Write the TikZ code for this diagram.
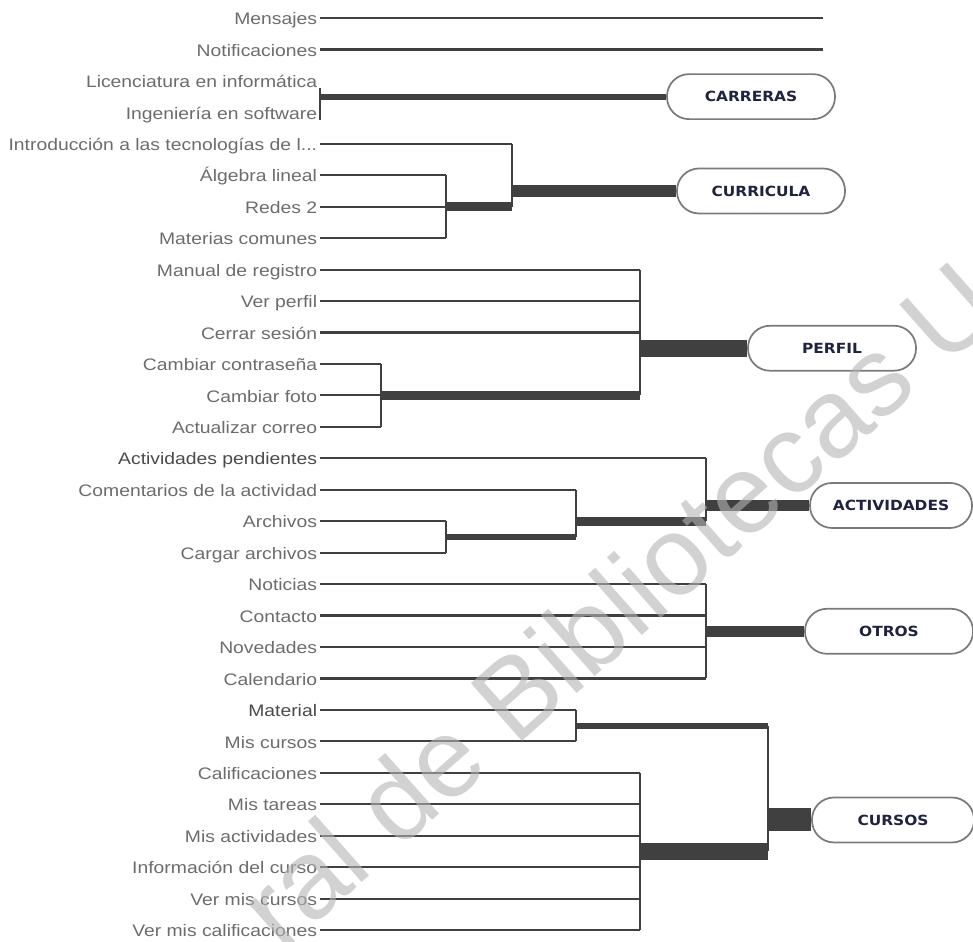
\documentclass[tikz,border=0pt]{standalone}
\usepackage{fontspec}
\usetikzlibrary{calc}
\newfontfamily\lblfont{Liberation Sans}[FakeStretch=1.16]
\newfontfamily\boxfont{DejaVu Sans}[FakeStretch=1.1]
\newfontfamily\wmfont{Liberation Sans}
\definecolor{linec}{HTML}{404040}
\definecolor{lbltext}{HTML}{6C6C6C}
\definecolor{lbldark}{HTML}{4A4A4A}
\definecolor{boxtext}{HTML}{1F2240}
\definecolor{boxedge}{HTML}{7A7A7A}
\definecolor{wmgray}{HTML}{B4B4B4}
% vertical position of leaf row #1 (pixel units)
\newcommand{\rowy}[1]{18+31.45*#1}
\begin{document}
\begin{tikzpicture}[x=0.75pt,y=-0.75pt,
  lbl/.style={anchor=east, inner xsep=2pt, inner ysep=0pt,
    text height=11.3pt, text depth=1.3pt,
    font=\lblfont\fontsize{12.5}{14}\selectfont, text=#1},
  lbl/.default=lbltext,
  leaf/.style={draw=linec, line width=1.6pt},
  vert/.style={draw=linec, line width=1.4pt},
  trunk/.style={draw=linec, line width=#1*0.75pt},
  catbox/.style={draw=boxedge, line width=1.3pt, fill=white,
    rounded corners=16.5pt, minimum width=126pt, minimum height=33.75pt,
    inner sep=0pt, text=boxtext,
    font=\boxfont\bfseries\fontsize{10.5}{12}\selectfont},
  wm/.style={font=\wmfont\fontsize{84}{84}\selectfont, text=wmgray,
    text opacity=0.6, inner sep=0pt}
]
\useasboundingbox (0,0) rectangle (973,941);
\clip (0,0) rectangle (973,941);

% menu entries, one per row
\foreach \t/\c [count=\i from 0] in {
  Mensajes/lbltext, Notificaciones/lbltext,
  Licenciatura en informática/lbltext, Ingeniería en software/lbltext,
  {Introducción a las tecnologías de l...}/lbltext, Álgebra lineal/lbltext,
  Redes 2/lbltext, Materias comunes/lbltext,
  Manual de registro/lbltext, Ver perfil/lbltext, Cerrar sesión/lbltext,
  Cambiar contraseña/lbltext, Cambiar foto/lbltext, Actualizar correo/lbltext,
  Actividades pendientes/lbldark, Comentarios de la actividad/lbltext,
  Archivos/lbltext, Cargar archivos/lbltext,
  Noticias/lbltext, Contacto/lbltext, Novedades/lbltext, Calendario/lbltext,
  Material/lbldark, Mis cursos/lbltext,
  Calificaciones/lbltext, Mis tareas/lbltext, Mis actividades/lbltext,
  Información del curso/lbltext, Ver mis cursos/lbltext,
  Ver mis calificaciones/lbltext}
  \node[lbl=\c] (r\i) at (320,{\rowy{\i}}) {\t};

% loose entries
\coordinate (msgEnd) at (823,0);
\draw[leaf] (r0.east) -- (r0.east -| msgEnd);
\draw[leaf] (r1.east) -- (r1.east -| msgEnd);

% CARRERAS
\node[catbox] (carreras) at (751,{\rowy{2.5}}) {CARRERAS};
\coordinate (caJ) at (320,{\rowy{2.5}});
\draw[vert] ($(r2.east)+(0,7)$) -- ($(r3.east)+(0,8)$);
\draw[trunk=6] (caJ) -- (carreras.west);

% CURRICULA
\coordinate (cuA) at (446,{\rowy{6}});
\coordinate (cuB) at (512,{\rowy{5.5}});
\foreach \k in {5,6,7} \draw[leaf] (r\k.east) -- (r\k.east -| cuA);
\draw[vert] (r5.east -| cuA) -- (r7.east -| cuA);
\draw[leaf] (r4.east) -- (r4.east -| cuB);
\draw[vert] (r4.east -| cuB) -- (cuA -| cuB);
\draw[trunk=9] (cuA) -- (cuA -| cuB);
\node[catbox] (curricula) at (761,{\rowy{5.5}}) {CURRICULA};
\draw[trunk=11.5] (cuB) -- (curricula.west);

% PERFIL
\coordinate (peA) at (381,{\rowy{12}});
\coordinate (peB) at (640,{\rowy{10.5}});
\foreach \k in {11,12,13} \draw[leaf] (r\k.east) -- (r\k.east -| peA);
\draw[vert] (r11.east -| peA) -- (r13.east -| peA);
\foreach \k in {8,9,10} \draw[leaf] (r\k.east) -- (r\k.east -| peB);
\draw[vert] (r8.east -| peB) -- (peA -| peB);
\draw[trunk=9] (peA) -- (peA -| peB);
\node[catbox] (perfil) at (832,{\rowy{10.5}}) {PERFIL};
\draw[trunk=17] (peB) -- (perfil.west);

% ACTIVIDADES
\coordinate (acA) at (446,{\rowy{16.5}});
\coordinate (acB) at (576,{\rowy{16}});
\coordinate (acC) at (706,{\rowy{15.5}});
\foreach \k in {16,17} \draw[leaf] (r\k.east) -- (r\k.east -| acA);
\draw[vert] (r16.east -| acA) -- (r17.east -| acA);
\draw[leaf] (r15.east) -- (r15.east -| acB);
\draw[vert] (r15.east -| acB) -- (acA -| acB);
\draw[trunk=6] (acA) -- (acA -| acB);
\draw[leaf] (r14.east) -- (r14.east -| acC);
\draw[vert] (r14.east -| acC) -- (acB -| acC);
\draw[trunk=9] (acB) -- (acB -| acC);
\node[catbox, minimum width=121.5pt] (actividades) at (891,{\rowy{15.5}}) {ACTIVIDADES};
\draw[trunk=11.5] (acC) -- (actividades.west);

% OTROS
\coordinate (otA) at (706,{\rowy{19.5}});
\foreach \k in {18,19,20,21} \draw[leaf] (r\k.east) -- (r\k.east -| otA);
\draw[vert] (r18.east -| otA) -- (r21.east -| otA);
\node[catbox] (otros) at (889,{\rowy{19.5}}) {OTROS};
\draw[trunk=11.5] (otA) -- (otros.west);

% CURSOS
\coordinate (csA) at (576,{\rowy{22.5}});
\coordinate (csB) at (640,{\rowy{26.5}});
\coordinate (csC) at (768,{\rowy{25.5}});
\foreach \k in {22,23} \draw[leaf] (r\k.east) -- (r\k.east -| csA);
\draw[vert] (r22.east -| csA) -- (r23.east -| csA);
\foreach \k in {24,...,29} \draw[leaf] (r\k.east) -- (r\k.east -| csB);
\draw[vert] (r24.east -| csB) -- (r29.east -| csB);
\draw[trunk=6] (csA) -- (csA -| csC);
\draw[trunk=17] (csB) -- (csB -| csC);
\draw[vert] (csA -| csC) -- (csB -| csC);
\node[catbox, minimum width=121.5pt] (cursos) at (893,{\rowy{25.5}}) {CURSOS};
\draw[trunk=23] (csC) -- (cursos.west);

% library watermark across the sheet
\node[wm, rotate=41.5] (wmark) at (617,604) {ral de Bibliotecas U};
\end{tikzpicture}
\end{document}
